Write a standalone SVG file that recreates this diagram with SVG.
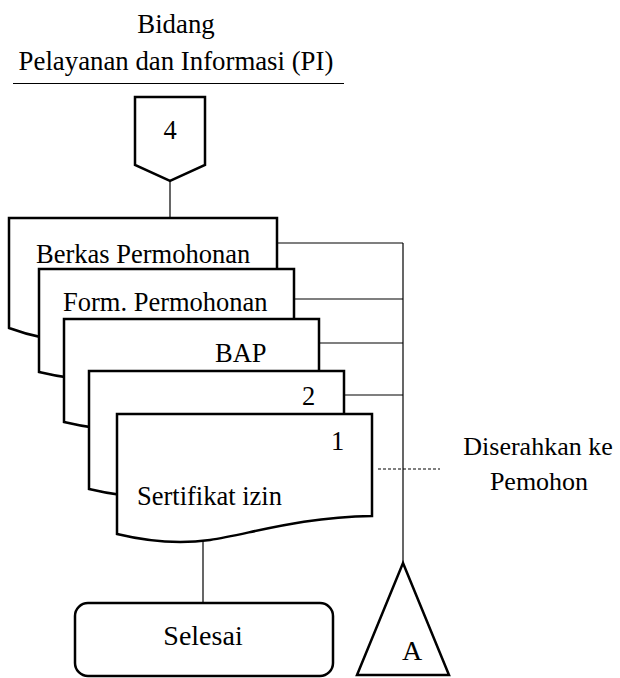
<svg xmlns="http://www.w3.org/2000/svg" width="620" height="678" viewBox="0 0 620 678">
  <style>
    .shape { fill: #fff; stroke: #000; stroke-width: 2.5; stroke-linejoin: miter; }
    .link { fill: none; stroke: #000; stroke-width: 1.2; }
    .dash { fill: none; stroke: #000; stroke-width: 1.2; stroke-dasharray: 3 2; }
  </style>

  <!-- lane header -->
  <g id="header">
    <text style="font-family:'Liberation Serif',serif;font-size:26.8px" x="176" y="33" text-anchor="middle">Bidang</text>
    <text style="font-family:'Liberation Serif',serif;font-size:26.8px" x="176" y="70" text-anchor="middle">Pelayanan dan Informasi (PI)</text>
    <line x1="13" y1="83.5" x2="344" y2="83.5" stroke="#000" stroke-width="1"/>
  </g>

  <!-- connectors -->
  <g id="connectors">
    <line class="link" x1="170" y1="181" x2="170" y2="218"/>
    <line class="link" x1="403" y1="243" x2="403" y2="563"/>
    <line class="link" x1="278" y1="243" x2="403" y2="243"/>
    <line class="link" x1="295" y1="299" x2="403" y2="299"/>
    <line class="link" x1="320" y1="343" x2="403" y2="343"/>
    <line class="link" x1="345" y1="395" x2="403" y2="395"/>
    <line class="dash" x1="378" y1="469" x2="440" y2="469"/>
    <line class="link" x1="203" y1="541" x2="203" y2="603"/>
  </g>

  <!-- off-page connector 4 -->
  <g id="offpage-4">
    <path class="shape" d="M135,97 H205 V165 L170,181 L135,165 Z"/>
    <text style="font-family:'Liberation Serif',serif;font-size:26.5px" x="170" y="139" text-anchor="middle">4</text>
  </g>

  <!-- stacked documents -->
  <g id="doc-berkas">
    <path class="shape" d="M9,218 H277 V318 C202,319 150,334 106,339 C75,344 44,341 9,328 Z"/>
    <text style="font-family:'Liberation Serif',serif;font-size:26.5px" x="36" y="263">Berkas Permohonan</text>
  </g>
  <g id="doc-form">
    <path class="shape" d="M39,269 H294 V354 C222,355 172,372 132,378 C102,382 72,380 39,372 Z"/>
    <text style="font-family:'Liberation Serif',serif;font-size:26.5px" x="63" y="311">Form. Permohonan</text>
  </g>
  <g id="doc-bap">
    <path class="shape" d="M64,319 H319 V404 C247,405 197,422 157,428 C127,432 97,430 64,422 Z"/>
    <text style="font-family:'Liberation Serif',serif;font-size:26.5px" x="215" y="362">BAP</text>
  </g>
  <g id="doc-2">
    <path class="shape" d="M89,371 H344 V471 C272,472 222,489 182,495 C152,499 122,497 89,489 Z"/>
    <text style="font-family:'Liberation Serif',serif;font-size:26.5px" x="302" y="405">2</text>
  </g>
  <g id="doc-sertifikat">
    <path class="shape" d="M117,414 H372 V516 C300,517 250,534 210,540 C180,544 150,542 117,534 Z"/>
    <text style="font-family:'Liberation Serif',serif;font-size:26.5px" x="331" y="450">1</text>
    <text style="font-family:'Liberation Serif',serif;font-size:26.5px" x="137" y="505">Sertifikat izin</text>
  </g>

  <!-- note -->
  <g id="note">
    <text style="font-family:'Liberation Serif',serif;font-size:26px" x="538" y="455" text-anchor="middle">Diserahkan ke</text>
    <text style="font-family:'Liberation Serif',serif;font-size:26px" x="539" y="490" text-anchor="middle">Pemohon</text>
  </g>

  <!-- terminator -->
  <g id="selesai">
    <rect class="shape" x="75" y="603" width="258" height="73" rx="13" ry="13"/>
    <text style="font-family:'Liberation Serif',serif;font-size:28px" x="203" y="645" text-anchor="middle">Selesai</text>
  </g>

  <!-- archive A -->
  <g id="archive-a">
    <path class="shape" d="M403,563 L449,675 H357 Z"/>
    <text style="font-family:'Liberation Serif',serif;font-size:28px" x="412" y="660" text-anchor="middle">A</text>
  </g>
</svg>
